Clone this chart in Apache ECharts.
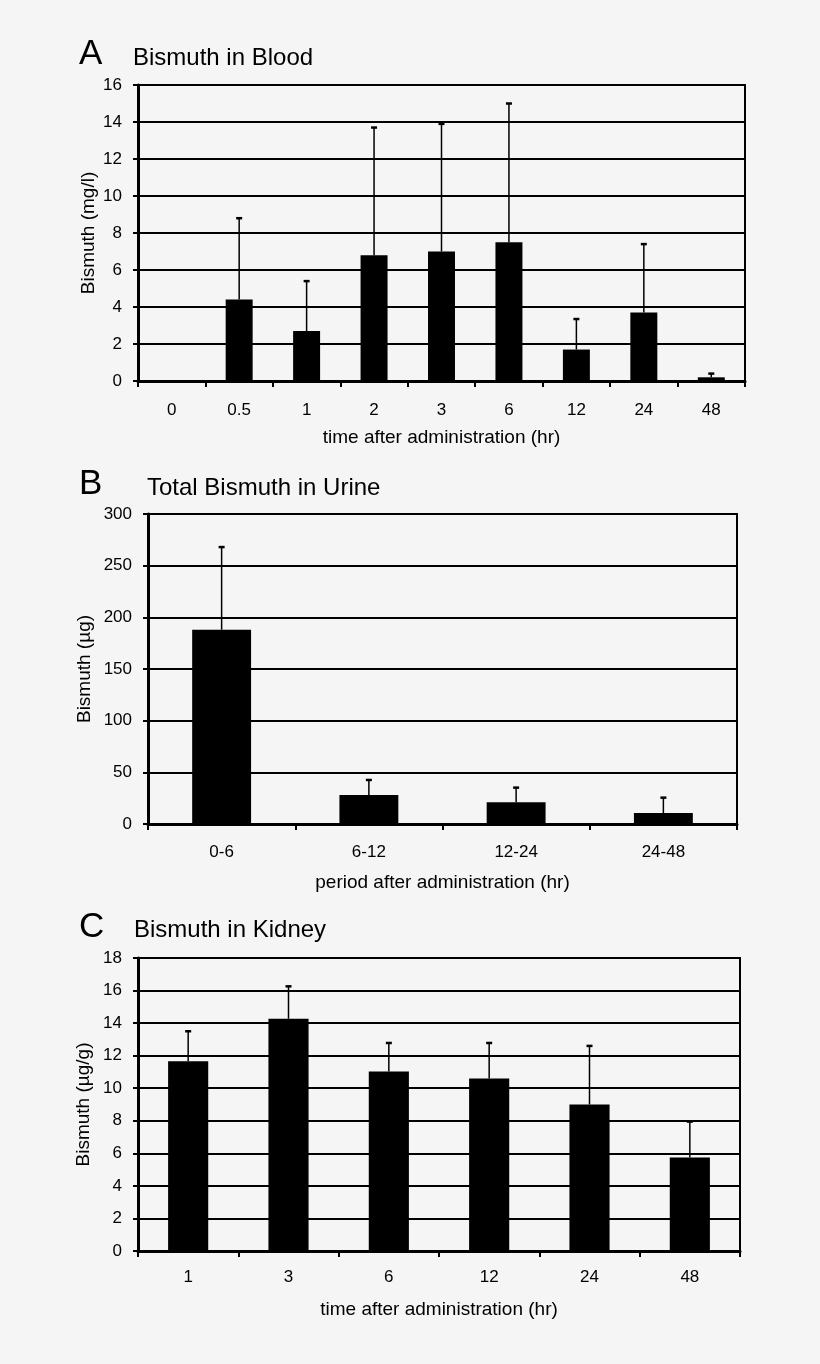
<!DOCTYPE html>
<html>
<head>
<meta charset="utf-8">
<script src="https://cdn.jsdelivr.net/npm/echarts@6/dist/echarts.min.js"></script>
<style>
html,body{margin:0;padding:0;background:#f5f5f5;}
#c{width:820px;height:1364px;}
</style>
</head>
<body>
<div id="c"></div>
<script>
// Panel A: Bismuth in Blood
const bloodCats = ['0','0.5','1','2','3','6','12','24','48'];
const bloodMean = [0, 4.4, 2.7, 6.8, 7.0, 7.5, 1.7, 3.7, 0.2];
const bloodUpper = [0, 8.8, 5.4, 13.7, 13.9, 15.0, 3.35, 7.4, 0.4];
const bloodTicks = {min: 0, max: 16, interval: 2};

// Panel B: Total Bismuth in Urine
const urineCats = ['0-6','6-12','12-24','24-48'];
const urineMean = [188, 28, 21, 10.6];
const urineUpper = [268, 42.6, 35.2, 25.5];
const urineTicks = {min: 0, max: 300, interval: 50};

// Panel C: Bismuth in Kidney
const kidneyCats = ['1','3','6','12','24','48'];
const kidneyMean = [11.65, 14.27, 11.02, 10.59, 9.0, 5.75];
const kidneyUpper = [13.5, 16.26, 12.78, 12.78, 12.6, 7.95];
const kidneyTicks = {min: 0, max: 18, interval: 2};

const FONT = '"Liberation Sans", Arial, sans-serif';
const chart = echarts.init(document.getElementById('c'), null, {renderer: 'canvas'});

const grids = [
  {left: 138, right: 75, top: 85, height: 296},
  {left: 148, right: 83, top: 514, height: 310},
  {left: 138, right: 80, top: 958, height: 293}
];

const panels = [
  {cats: bloodCats, mean: bloodMean, upper: bloodUpper, ticks: bloodTicks,
   yName: 'Bismuth (mg/l)', xName: 'time after administration (hr)', yGap: 40, lblMargin: 21, xGap: 47},
  {cats: urineCats, mean: urineMean, upper: urineUpper, ticks: urineTicks,
   yName: 'Bismuth (µg)', xName: 'period after administration (hr)', yGap: 54, lblMargin: 20, xGap: 49},
  {cats: kidneyCats, mean: kidneyMean, upper: kidneyUpper, ticks: kidneyTicks,
   yName: 'Bismuth (µg/g)', xName: 'time after administration (hr)', yGap: 45, lblMargin: 18, xGap: 49}
];

const xAxes = [], yAxes = [], series = [];
panels.forEach((p, i) => {
  xAxes.push({
    type: 'category', gridIndex: i, data: p.cats, boundaryGap: true,
    axisLine: {lineStyle: {color: '#000', width: 3}},
    axisTick: {show: true, length: 6, lineStyle: {color: '#000', width: 2}},
    axisLabel: {color: '#000', fontSize: 17, fontFamily: FONT, margin: p.lblMargin, interval: 0},
    name: p.xName, nameLocation: 'middle', nameGap: p.xGap, nameMoveOverlap: false,
    nameTextStyle: {color: '#000', fontSize: 19, fontFamily: FONT},
    splitLine: {show: false}
  });
  yAxes.push({
    type: 'value', gridIndex: i, min: p.ticks.min, max: p.ticks.max, interval: p.ticks.interval,
    axisLine: {show: true, lineStyle: {color: '#000', width: 3}},
    axisTick: {show: true, length: 5, lineStyle: {color: '#000', width: 2}},
    axisLabel: {color: '#000', fontSize: 17, fontFamily: FONT, margin: 16},
    splitLine: {show: true, lineStyle: {color: '#000', width: 2}},
    name: p.yName, nameLocation: 'middle', nameGap: p.yGap, nameMoveOverlap: false,
    nameTextStyle: {color: '#000', fontSize: 19, fontFamily: FONT}
  });
  series.push({
    type: 'bar', xAxisIndex: i, yAxisIndex: i, data: p.mean, barWidth: '40%',
    itemStyle: {color: '#000'}, silent: true, z: 3
  });
  series.push({
    type: 'custom', xAxisIndex: i, yAxisIndex: i, z: 4, silent: true,
    data: p.cats.map((c, k) => [k, p.mean[k], p.upper[k]]),
    renderItem: function (params, api) {
      const idx = api.value(0), m = api.value(1), u = api.value(2);
      if (!(u > m)) return null;
      const lo = api.coord([idx, m]);
      const hi = api.coord([idx, u]);
      return {
        type: 'group',
        children: [
          {type: 'line', shape: {x1: lo[0], y1: lo[1], x2: hi[0], y2: hi[1]},
           style: {stroke: '#000', lineWidth: 1.5}},
          {type: 'line', shape: {x1: hi[0] - 3, y1: hi[1], x2: hi[0] + 3, y2: hi[1]},
           style: {stroke: '#000', lineWidth: 2.5}}
        ]
      };
    }
  });
});

const gridOpts = grids.map(g => Object.assign({show: true, borderColor: '#000', borderWidth: 2, backgroundColor: 'transparent'}, g));

function txt(x, y, text, size) {
  return {type: 'text', left: x, top: y - size / 2, style: {text: text, fill: '#000', font: size + 'px ' + FONT}};
}

chart.setOption({
  backgroundColor: '#f5f5f5',
  animation: false,
  grid: gridOpts,
  xAxis: xAxes,
  yAxis: yAxes,
  series: series,
  graphic: [
    txt(79, 54, 'A', 35),
    txt(133, 58, 'Bismuth in Blood', 24),
    txt(79, 484, 'B', 35),
    txt(147, 488, 'Total Bismuth in Urine', 24),
    txt(79, 927, 'C', 35),
    txt(134, 930, 'Bismuth in Kidney', 24)
  ]
});
</script>
</body>
</html>
